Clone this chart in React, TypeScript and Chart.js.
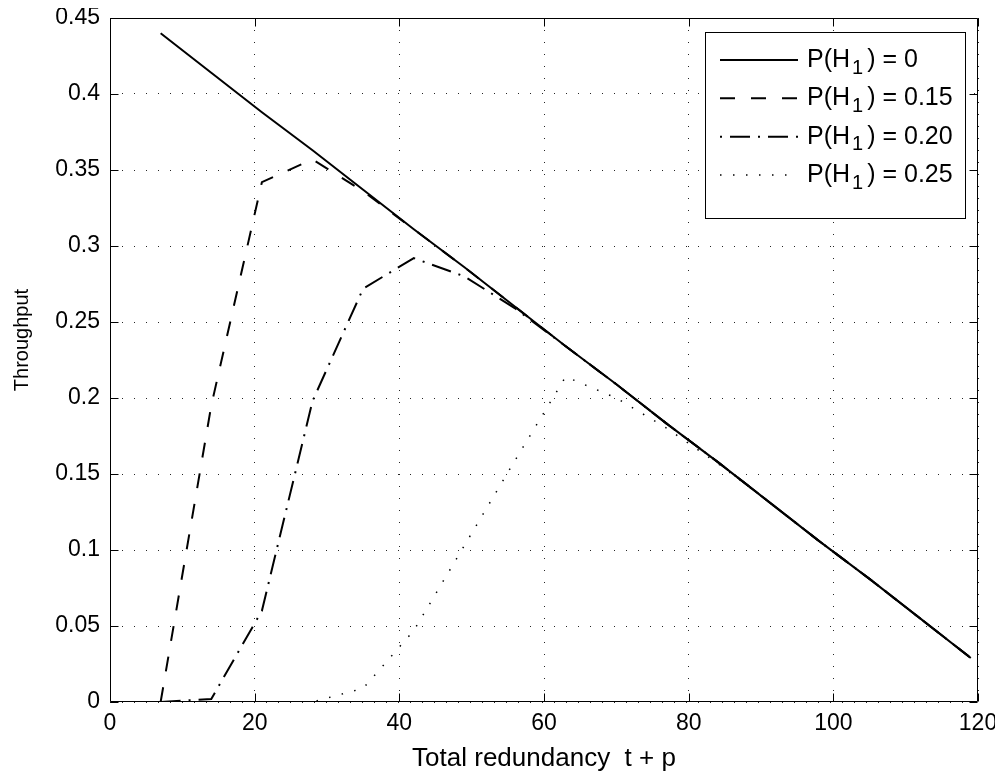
import React, { useEffect, useRef } from "react";
import { Chart, registerables } from "chart.js";

Chart.register(...registerables);

// ---- data -------------------------------------------------------------
const X_VALUES = [7, 14, 21, 28, 35, 42, 49, 56, 63, 70, 77, 84, 91, 98, 105, 112, 119];

const SERIES_P0 = [0.44, 0.414, 0.388, 0.363, 0.337, 0.311, 0.286, 0.26, 0.234, 0.209, 0.183, 0.158, 0.132, 0.106, 0.081, 0.055, 0.029];
const SERIES_P015 = [0.0, 0.195, 0.342, 0.357, 0.336, 0.311, 0.286, 0.26, 0.234, 0.209, 0.183, 0.158, 0.132, 0.106, 0.081, 0.055, 0.029];
const SERIES_P020 = [0.0, 0.002, 0.06, 0.198, 0.272, 0.292, 0.28, 0.259, 0.234, 0.209, 0.183, 0.158, 0.132, 0.106, 0.081, 0.055, 0.029];
const SERIES_P025 = [0.0, 0.0, 0.0, 0.0, 0.009, 0.047, 0.103, 0.159, 0.214, 0.2, 0.18, 0.157, 0.132, 0.106, 0.081, 0.055, 0.029];

const P_H1_VALUES = ["0", "0.15", "0.20", "0.25"];

const X_TICKS = [0, 20, 40, 60, 80, 100, 120];
const X_TICK_LABELS = ["0", "20", "40", "60", "80", "100", "120"];
const Y_TICKS = [0, 0.05, 0.1, 0.15, 0.2, 0.25, 0.3, 0.35, 0.4, 0.45];
const Y_TICK_LABELS = ["0", "0.05", "0.1", "0.15", "0.2", "0.25", "0.3", "0.35", "0.4", "0.45"];

const X_TITLE = "Total redundancy  t + p";
const Y_TITLE = "Throughput";

// ---- styles -----------------------------------------------------------
const FONT = "'Liberation Sans', Arial, Helvetica, sans-serif";
const DASHES = [[], [15, 16], [20, 8, 2, 8], [1.5, 11.5]];
const WIDTHS = [2, 2, 2, 1.5];
const LEGEND_DASH_OFFSETS = [0, 0, 28, 0];

const frameTicksPlugin = {
  id: "frameTicks",
  afterDatasetsDraw(chart: any) {
    const { ctx, chartArea } = chart;
    const { left, right, top, bottom } = chartArea;
    const xs = chart.scales.x;
    const ys = chart.scales.y;
    const L = Math.round(left) + 0.5;
    const R = Math.round(right) - 0.5;
    const T = Math.round(top) + 0.5;
    const B = Math.round(bottom) - 0.5;
    const len = 8;
    ctx.save();
    ctx.setLineDash([]);
    ctx.strokeStyle = "#000";
    ctx.lineWidth = 1;
    ctx.beginPath();
    ctx.rect(L, T, R - L, B - T);
    ctx.stroke();
    ctx.beginPath();
    X_TICKS.forEach((v) => {
      const p = Math.round(xs.getPixelForValue(v)) + 0.5;
      ctx.moveTo(p, B);
      ctx.lineTo(p, B - len);
      ctx.moveTo(p, T);
      ctx.lineTo(p, T + len);
    });
    Y_TICKS.forEach((v) => {
      const p = Math.round(ys.getPixelForValue(v)) + 0.5;
      ctx.moveTo(L, p);
      ctx.lineTo(L + len, p);
      ctx.moveTo(R, p);
      ctx.lineTo(R - len, p);
    });
    ctx.stroke();
    ctx.restore();
  },
};

const yTitlePlugin = {
  id: "yTitle",
  afterDraw(chart: any) {
    const { ctx, chartArea } = chart;
    ctx.save();
    ctx.translate(14, (chartArea.top + chartArea.bottom) / 2 - 20);
    ctx.rotate(-Math.PI / 2);
    ctx.fillStyle = "#000";
    ctx.textAlign = "center";
    ctx.textBaseline = "middle";
    ctx.font = `20px ${FONT}`;
    ctx.fillText(Y_TITLE, 0, 0);
    ctx.restore();
  },
};

const legendPlugin = {
  id: "matlabLegend",
  afterDraw(chart: any) {
    const { ctx, chartArea } = chart;
    const boxW = 260;
    const boxH = 186;
    const bx = Math.round(chartArea.right - 13 - boxW);
    const by = Math.round(chartArea.top + 14);
    ctx.save();
    ctx.setLineDash([]);
    ctx.fillStyle = "#fff";
    ctx.fillRect(bx, by, boxW, boxH);
    ctx.strokeStyle = "#000";
    ctx.lineWidth = 1;
    ctx.strokeRect(bx + 0.5, by + 0.5, boxW, boxH);

    chart.data.datasets.forEach((ds: any, i: number) => {
      const cy = by + 28 + i * 38.33;
      ctx.beginPath();
      ctx.setLineDash(ds.borderDash || []);
      ctx.lineDashOffset = LEGEND_DASH_OFFSETS[i];
      ctx.lineWidth = ds.borderWidth;
      ctx.strokeStyle = "#000";
      ctx.moveTo(bx + 15, cy);
      ctx.lineTo(bx + 93, cy);
      ctx.stroke();
      ctx.setLineDash([]);
      ctx.lineDashOffset = 0;

      ctx.fillStyle = "#000";
      ctx.textBaseline = "middle";
      ctx.textAlign = "left";
      let tx = bx + 102;
      ctx.font = `25px ${FONT}`;
      ctx.fillText("P(H", tx, cy);
      tx += ctx.measureText("P(H").width + 2;
      ctx.font = `20px ${FONT}`;
      ctx.fillText("1", tx, cy + 8);
      tx += ctx.measureText("1").width + 4;
      ctx.font = `25px ${FONT}`;
      ctx.fillText(") = " + P_H1_VALUES[i], tx, cy);
    });
    ctx.restore();
  },
};

export default function App() {
  const canvasRef = useRef<HTMLCanvasElement | null>(null);

  useEffect(() => {
    const canvas = canvasRef.current;
    if (!canvas) return;
    const seriesList = [SERIES_P0, SERIES_P015, SERIES_P020, SERIES_P025];
    const datasets = seriesList.map((series, i) => ({
      label: `P(H1) = ${P_H1_VALUES[i]}`,
      data: X_VALUES.map((x, j) => ({ x, y: series[j] })),
      borderColor: "#000",
      backgroundColor: "#000",
      borderWidth: WIDTHS[i],
      borderDash: DASHES[i],
      borderCapStyle: "butt" as const,
      pointRadius: 0,
      pointHoverRadius: 0,
      tension: 0,
      fill: false,
    }));

    const chart = new Chart(canvas, {
      type: "line",
      data: { datasets },
      options: {
        animation: false,
        responsive: true,
        maintainAspectRatio: false,
        layout: { padding: { left: 0, right: 25, top: 10, bottom: 8 } },
        plugins: {
          legend: { display: false },
          tooltip: { enabled: false },
        },
        scales: {
          x: {
            type: "linear",
            min: 0,
            max: 120,
            afterBuildTicks: (s: any) => {
              s.ticks = X_TICKS.map((v) => ({ value: v }));
            },
            afterFit: (s: any) => {
              s.height = 67;
              s.paddingLeft = 0;
              s.paddingRight = 0;
              s.paddingTop = 0;
              s.paddingBottom = 0;
            },
            ticks: {
              autoSkip: false,
              maxRotation: 0,
              padding: 10,
              color: "#000",
              font: { family: FONT, size: 23, lineHeight: 1 },
              callback: (_v: any, i: number) => X_TICK_LABELS[i],
            },
            grid: {
              color: "rgba(0,0,0,0.85)",
              lineWidth: 1,
              drawTicks: false,
            },
            border: { display: false, dash: [1, 11] },
            title: {
              display: true,
              text: X_TITLE,
              color: "#000",
              font: { family: FONT, size: 26, lineHeight: 0.8 },
              padding: { top: 0, bottom: 0 },
            },
          },
          y: {
            type: "linear",
            min: 0,
            max: 0.45,
            afterBuildTicks: (s: any) => {
              s.ticks = Y_TICKS.map((v) => ({ value: v }));
            },
            afterFit: (s: any) => {
              s.width = 102;
              s.paddingLeft = 0;
              s.paddingRight = 0;
              s.paddingTop = 0;
              s.paddingBottom = 0;
            },
            ticks: {
              autoSkip: false,
              padding: 10,
              color: "#000",
              font: { family: FONT, size: 23, lineHeight: 1.2 },
              callback: (_v: any, i: number) => Y_TICK_LABELS[i],
            },
            grid: {
              color: "rgba(0,0,0,0.85)",
              lineWidth: 1,
              drawTicks: false,
            },
            border: { display: false, dash: [1, 11] },
            title: { display: false },
          },
        },
      },
      plugins: [frameTicksPlugin, legendPlugin, yTitlePlugin],
    });

    return () => {
      chart.destroy();
    };
  }, []);

  return (
    <div style={{ width: 995, height: 769, position: "relative" }}>
      <canvas ref={canvasRef} style={{ display: "block" }} />
    </div>
  );
}
